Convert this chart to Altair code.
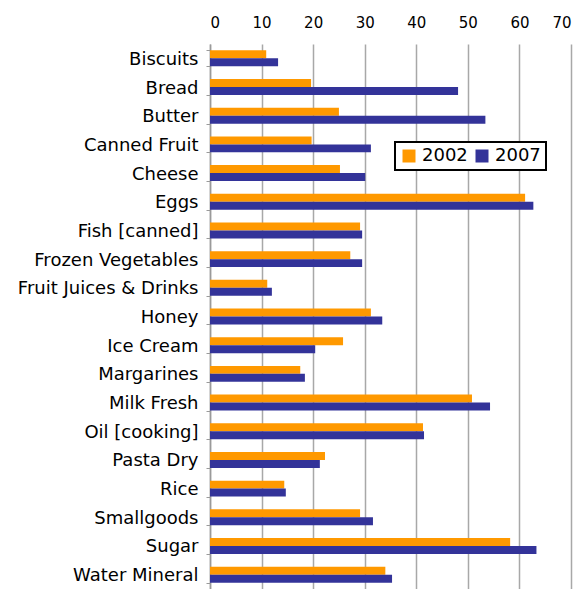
import altair as alt
import pandas as pd

categories = ["Biscuits", "Bread", "Butter", "Canned Fruit", "Cheese ", "Eggs",
              "Fish [canned]", "Frozen Vegetables", "Fruit Juices & Drinks", "Honey",
              "Ice Cream", "Margarines", "Milk Fresh", "Oil [cooking]", "Pasta Dry",
              "Rice", "Smallgoods", "Sugar", "Water Mineral"]
values_2002 = [10.9, 19.6, 25.0, 19.7, 25.2, 61.1, 29.1, 27.2, 11.1, 31.2,
               25.8, 17.5, 50.8, 41.3, 22.3, 14.4, 29.1, 58.2, 34.0]
values_2007 = [13.2, 48.1, 53.4, 31.2, 30.1, 62.7, 29.5, 29.5, 12.0, 33.4,
               20.4, 18.4, 54.3, 41.5, 21.3, 14.7, 31.6, 63.3, 35.3]
years = ["2002", "2007"]
x_ticks = [0, 10, 20, 30, 40, 50, 60, 70]

rows = []
for c, a, b in zip(categories, values_2002, values_2007):
    rows.append({"category": c, "year": years[0], "value": a})
    rows.append({"category": c, "year": years[1], "value": b})
df = pd.DataFrame(rows)

font = "DejaVu Sans"

chart = alt.Chart(df).mark_bar().encode(
    y=alt.Y("category:N", sort=categories,
            scale=alt.Scale(paddingInner=0.444, paddingOuter=0.222),
            axis=alt.Axis(title=None, tickBand="extent", labelFontSize=18,
                          labelFont=font, labelColor="black", labelPadding=8,
                          labelOffset=1, labelLimit=300,
                          tickSize=4, tickColor="#9a9a9a", domainColor="#9a9a9a",
                          domainWidth=1.5, grid=False)),
    yOffset=alt.YOffset("year:N", sort=years),
    x=alt.X("value:Q", scale=alt.Scale(domain=[0, 70], nice=False),
            axis=alt.Axis(orient="top", title=None, values=x_ticks, format="d",
                          labelFontSize=15, labelFont=font, labelColor="black",
                          labelPadding=14, tickSize=0, domain=False,
                          grid=True, gridColor="#a8a8a8", gridWidth=1.5)),
    color=alt.Color("year:N", sort=years,
                    scale=alt.Scale(domain=years, range=["#FF9900", "#333399"]),
                    legend=alt.Legend(title=None, orient="none", legendX=185, legendY=98,
                                      direction="horizontal", columns=2,
                                      symbolType="square", symbolSize=169,
                                      symbolStrokeWidth=0, labelFontSize=18,
                                      labelFont=font, labelColor="black",
                                      labelOffset=4, columnPadding=5,
                                      padding=5, strokeColor="black",
                                      fillColor="white")),
).properties(
    width=361, height=545,
    padding={"left": 210, "top": 44, "right": 11, "bottom": 0},
    autosize=alt.AutoSizeParams(type="none"),
).configure_view(stroke=None).configure_legend(strokeWidth=2)

chart.save("out.html", embed_options={"renderer": "svg", "actions": False})
